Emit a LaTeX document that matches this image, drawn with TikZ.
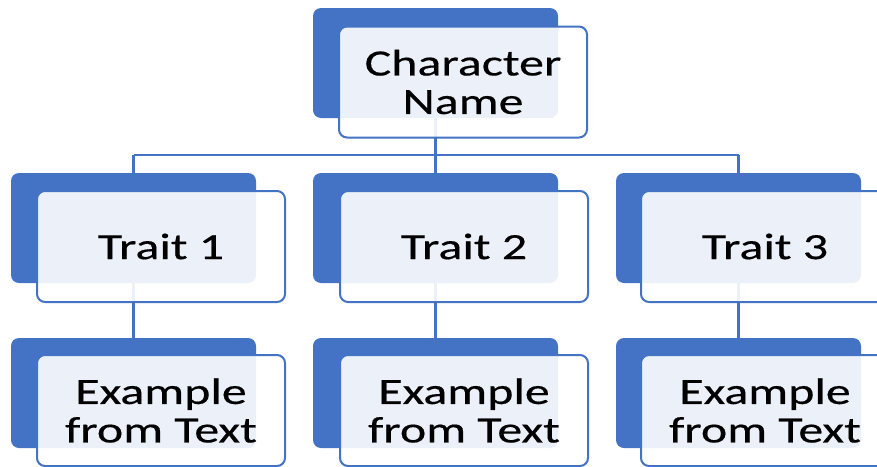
\documentclass[tikz,border=0pt]{standalone}
\usepackage{fontspec}
\setmainfont[FakeStretch=1.35,FakeBold=0.4]{Carlito}
\definecolor{obl}{HTML}{4472C4}
\pgfdeclarelayer{bg}
\pgfsetlayers{bg,main}
\tikzset{
  backbox/.style={rectangle, rounded corners=8pt, fill=obl, draw=none,
    minimum width=245pt, minimum height=110pt, inner sep=0pt},
  frontbox/.style={rectangle, rounded corners=8pt, draw=obl, line width=2pt,
    fill=white, fill opacity=0.9, text opacity=1, text=black,
    minimum width=248pt, minimum height=111pt, inner sep=0pt, align=center,
    font=\fontsize{37}{38.5}\selectfont},
  conn/.style={draw=obl, line width=2.5pt}
}
\begin{document}
\begin{tikzpicture}[x=1pt,y=-1pt]
\useasboundingbox (0,0) rectangle (877,466);
\clip (0,0) rectangle (877,466);
% back boxes
\node[backbox] (b0) at (435.5,63) {};
\node[backbox] (b1) at (133.5,228) {};
\node[backbox] (b2) at (435.5,228) {};
\node[backbox] (b3) at (738.5,228) {};
\node[backbox] (b4) at (133.5,393) {};
\node[backbox] (b5) at (435.5,393) {};
\node[backbox] (b6) at (738.5,393) {};
% connectors (behind the boxes)
\begin{pgfonlayer}{bg}
\coordinate (j) at (435.5,155);
\coordinate (jl) at (133.5,155);
\coordinate (jr) at (738.5,155);
\draw[conn] (b0.center) -- (j);
\draw[conn] (jl) -- (jr);
\draw[conn] (jl) -- (b1.north);
\draw[conn] (j) -- (b2.north);
\draw[conn] (jr) -- (b3.north);
\draw[conn] (b1.center) -- (b4.center);
\draw[conn] (b2.center) -- (b5.center);
\draw[conn] (b3.center) -- (b6.center);
\end{pgfonlayer}
% front boxes
\node[frontbox] (f0) at (463,82) {Character\\Name};
\node[frontbox] (f1) at (161,246.5) {Trait 1};
\node[frontbox] (f2) at (464,246.5) {Trait 2};
\node[frontbox] (f3) at (765,246.5) {Trait 3};
\node[frontbox] (f4) at (161,410.5) {Example\\from Text};
\node[frontbox] (f5) at (464,410.5) {Example\\from Text};
\node[frontbox] (f6) at (765,410.5) {Example\\from Text};
\end{tikzpicture}
\end{document}
